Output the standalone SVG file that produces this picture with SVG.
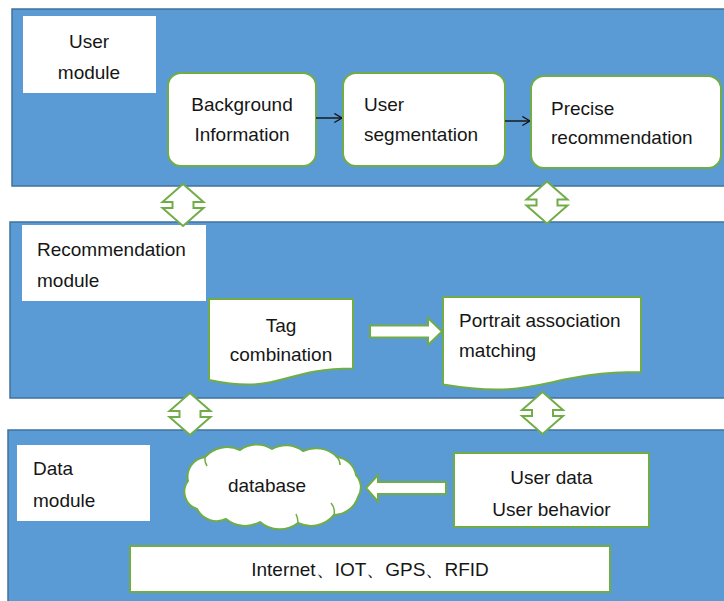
<svg xmlns="http://www.w3.org/2000/svg" xmlns:xlink="http://www.w3.org/1999/xlink" width="724" height="601" viewBox="0 0 724 601">
  <style>
    .panel { fill: #5B9BD5; stroke: #41719C; stroke-width: 1.5; }
    .label { fill: #ffffff; stroke: none; }
    .node { fill: #ffffff; stroke: #70AD47; stroke-width: 2; }
    .conn { fill: #ffffff; stroke: #70AD47; stroke-width: 2; stroke-linejoin: miter; }
    .line { fill: none; stroke: #111111; stroke-width: 1.4; }
    text { font-family: "Liberation Sans", Arial, sans-serif; font-size: 19px; fill: #161616; }
    .c { text-anchor: middle; }
  </style>
  <defs>
    <marker id="open" viewBox="0 0 10 12" refX="9.5" refY="6" markerWidth="9" markerHeight="11" markerUnits="userSpaceOnUse" orient="auto">
      <path d="M1,1 L9.5,6 L1,11" fill="none" stroke="#111111" stroke-width="1.5"/>
    </marker>
    <!-- up/down double arrow centred on the origin -->
    <path id="updown" d="M0,-21 L20.5,-3 H10.5 V3 H20.5 L0,21 L-20.5,3 H-10.5 V-3 H-20.5 Z"/>
  </defs>

  <!-- layer panels -->
  <g id="user-layer">
    <rect class="panel" x="12" y="9" width="720" height="177"/>
    <rect class="label" x="23" y="16" width="133" height="77"/>
    <text class="c" x="89" y="48">User</text>
    <text class="c" x="89" y="79">module</text>
  </g>
  <g id="recommendation-layer">
    <rect class="panel" x="10" y="222" width="722" height="176"/>
    <rect class="label" x="22" y="225" width="184" height="76"/>
    <text x="37" y="256">Recommendation</text>
    <text x="37" y="287">module</text>
  </g>
  <g id="data-layer">
    <rect class="panel" x="8" y="430" width="724" height="180"/>
    <rect class="label" x="17" y="445" width="133" height="76"/>
    <text x="33" y="475">Data</text>
    <text x="33" y="507">module</text>
  </g>

  <!-- user module nodes -->
  <g id="background-info">
    <rect class="node" x="168" y="73" width="148" height="93" rx="13"/>
    <text class="c" x="242" y="111">Background</text>
    <text class="c" x="242" y="141">Information</text>
  </g>
  <g id="user-segmentation">
    <rect class="node" x="343" y="73" width="162" height="93" rx="13"/>
    <text x="364" y="111">User</text>
    <text x="364" y="141">segmentation</text>
  </g>
  <g id="precise-recommendation">
    <rect class="node" x="531" y="76" width="190" height="92" rx="13"/>
    <text x="551" y="115">Precise</text>
    <text x="551" y="144">recommendation</text>
  </g>

  <!-- recommendation module nodes -->
  <g id="tag-combination">
    <path class="node" d="M209,299 H353 V368.5 C281,368.5 281,395 209,380 Z"/>
    <text class="c" x="281" y="332">Tag</text>
    <text class="c" x="281" y="361">combination</text>
  </g>
  <g id="portrait-matching">
    <path class="node" d="M443,297 H641 V372 C542,372 542,401 443,384.5 Z"/>
    <text x="459" y="327">Portrait association</text>
    <text x="459" y="357">matching</text>
  </g>

  <!-- data module nodes -->
  <g id="database">
    <path class="node" d="M188,481 A20,20 0 0 1 205,457 A30,30 0 0 1 240,450 A28,28 0 0 1 272,449 A28,28 0 0 1 303,451 A30,30 0 0 1 337,457 A22,22 0 0 1 356,475 A18,18 0 0 1 358,497 A26,26 0 0 1 334,515 A30,30 0 0 1 298,523 A30,30 0 0 1 260,522 A30,30 0 0 1 226,519 A22,22 0 0 1 197,509 A18,18 0 0 1 188,481 Z"/>
    <path d="M334,515 A14,14 0 0 0 331,503 M298,523 A20,20 0 0 0 296,514 M205,457 A14,14 0 0 0 207,466 M337,457 A12,12 0 0 1 340,465" fill="none" stroke="#70AD47" stroke-width="1.5"/>
    <text class="c" x="267" y="492">database</text>
  </g>
  <g id="user-data">
    <rect class="node" x="454" y="453" width="195" height="74"/>
    <text class="c" x="551.5" y="484">User data</text>
    <text class="c" x="551.5" y="516">User behavior</text>
  </g>
  <g id="sources">
    <rect class="node" x="130" y="546" width="480" height="46"/>
    <text class="c" x="370" y="576">Internet、IOT、GPS、RFID</text>
  </g>

  <!-- connectors -->
  <g id="connectors">
    <line class="line" x1="316" y1="118" x2="342" y2="118" marker-end="url(#open)"/>
    <line class="line" x1="505" y1="121" x2="530" y2="121" marker-end="url(#open)"/>
    <path class="conn" d="M370,325.5 H428 V318 L442,331.5 L428,345 V337.5 H370 Z"/>
    <path class="conn" d="M446,482 H378 V475 L366,488 L378,501.5 V494 H446 Z"/>
    <use xlink:href="#updown" class="conn" transform="translate(183,205)"/>
    <use xlink:href="#updown" class="conn" transform="translate(547,202.5)"/>
    <use xlink:href="#updown" class="conn" transform="translate(190,414)"/>
    <use xlink:href="#updown" class="conn" transform="translate(542.5,413)"/>
  </g>
</svg>
